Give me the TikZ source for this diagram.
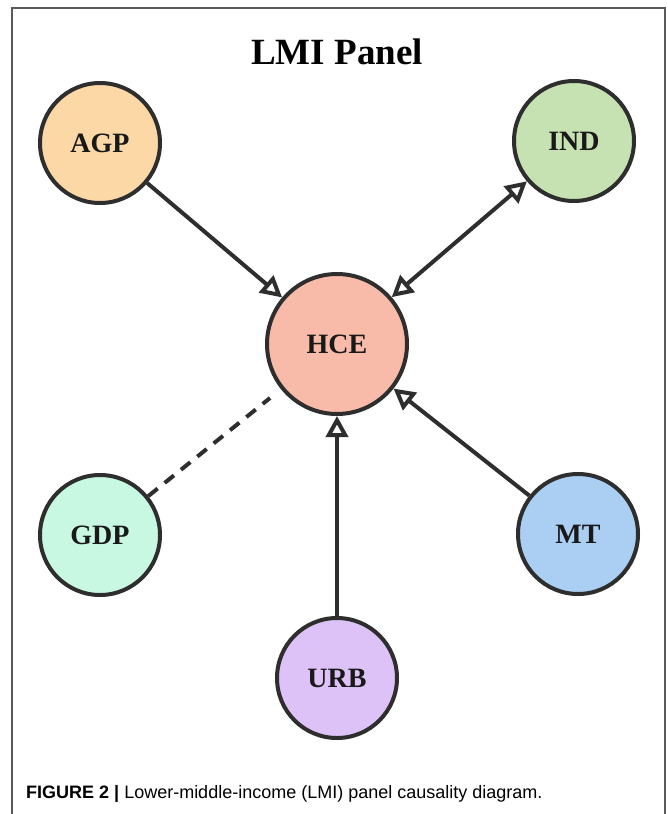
\documentclass[tikz,border=0pt]{standalone}
\usepackage{fontspec}
\setmainfont{Liberation Serif}
\newfontfamily\capfont{Liberation Sans}
\usetikzlibrary{arrows.meta}
\definecolor{agpc}{HTML}{FBD8A6}
\definecolor{indc}{HTML}{C6E2B3}
\definecolor{hcec}{HTML}{F9BBA9}
\definecolor{gdpc}{HTML}{C8F8E2}
\definecolor{mtc}{HTML}{AACFF2}
\definecolor{urbc}{HTML}{DDC2F7}
\definecolor{edgec}{HTML}{2E2E2E}
\tikzset{
  var/.style={circle, draw=edgec, line width=4pt, minimum size=120pt, inner sep=0pt,
    font=\fontsize{28}{30}\selectfont\bfseries, text=black!90},
  bigvar/.style={var, minimum size=140pt},
  link/.style={draw=edgec, line width=4pt},
  opentip/.tip={Triangle[open, length=21pt, width=22pt, fill=white]},
  cause/.style={link, -opentip},
  both/.style={link, opentip-opentip},
  noncause/.style={link, dash pattern=on 12pt off 9pt},
}
\begin{document}
\begin{tikzpicture}[x=1pt, y=-1pt]
\useasboundingbox (0,0) rectangle (668,814);
\draw[draw=black!65, line width=1.5pt] (12,814) -- (12,8) -- (665,8) -- (665,814);
\node[font=\fontsize{37}{40}\selectfont\bfseries] (title) at (337,52) {LMI Panel};
\node[var, fill=agpc] (agp) at (100,143) {AGP};
\node[var, fill=indc] (ind) at (574,141) {IND};
\node[bigvar, fill=hcec] (hce) at (337,344) {HCE};
\node[var, fill=gdpc] (gdp) at (100,535) {GDP};
\node[var, fill=mtc] (mt) at (578,534) {MT};
\node[var, fill=urbc] (urb) at (337,678) {URB};
\draw[cause] (agp) -- (hce);
\draw[both] (hce) -- (ind);
\draw[cause] (urb) -- (hce);
\draw[cause] (mt) -- (hce);
\draw[noncause, shorten >=14pt] (gdp) -- (hce);
\node[anchor=west, font=\capfont\fontsize{18}{20}\selectfont, inner sep=0pt] (cap) at (26,794)
  {\textbf{FIGURE 2 |} Lower-middle-income (LMI) panel causality diagram.};
\end{tikzpicture}
\end{document}
